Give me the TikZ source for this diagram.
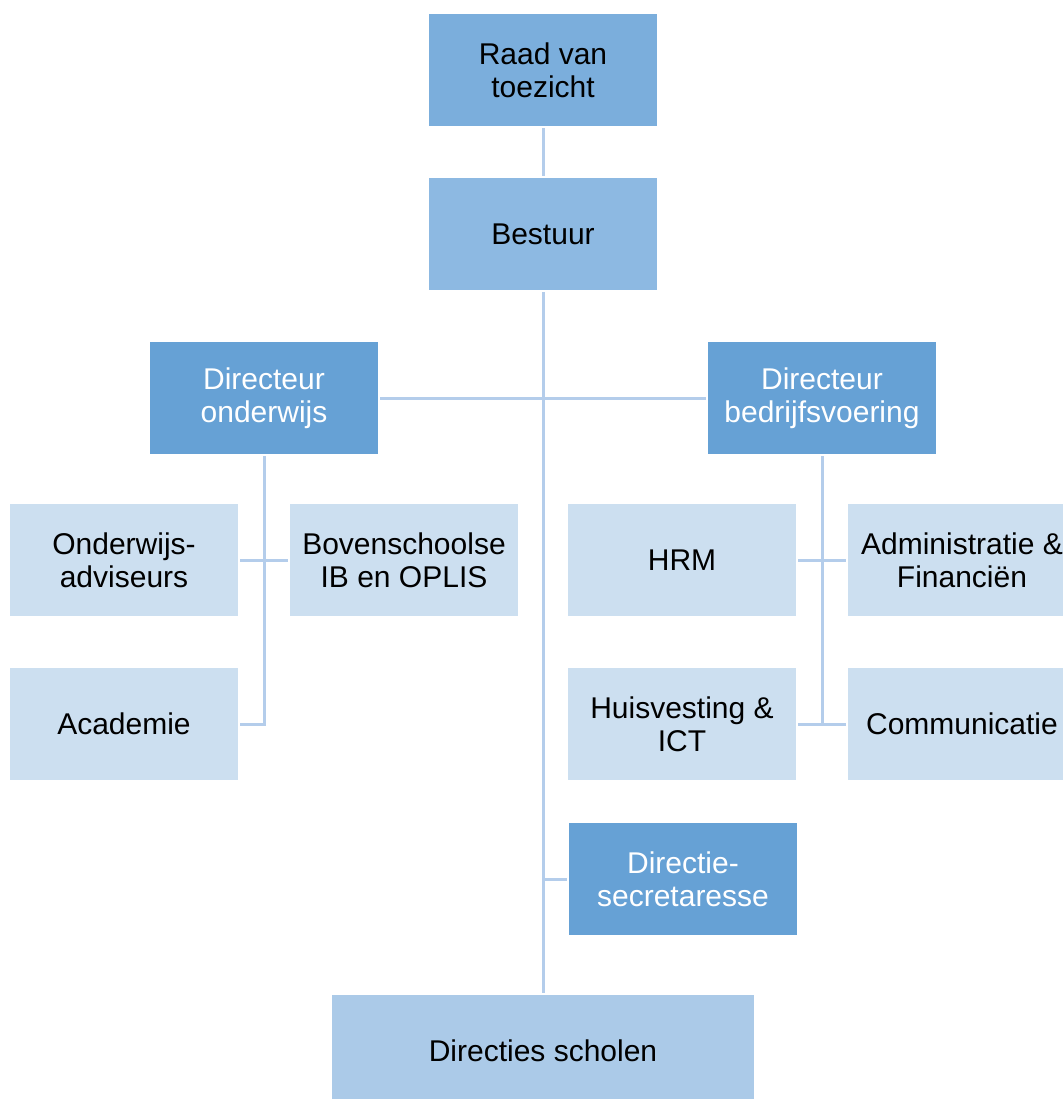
\documentclass[tikz,border=0pt]{standalone}
\usepackage{fontspec}
\setmainfont{Liberation Sans}
\usepackage{tikz}
\usetikzlibrary{positioning}
\definecolor{raadblue}  {RGB}{123,174,220}
\definecolor{bestblue}  {RGB}{141,185,226}
\definecolor{dirblue}   {RGB}{102,161,213}
\definecolor{unitblue}  {RGB}{204,223,240}
\definecolor{schoolblue}{RGB}{171,202,232}
\definecolor{lineblue}  {RGB}{180,205,235}

\tikzset{
  box/.style={minimum width=114pt, minimum height=56pt, inner sep=2pt,
    align=center, font=\fontsize{15}{16.5}\selectfont, text=black, outer sep=1.2pt},
  topbox/.style={box, fill=raadblue},
  bestbox/.style={box, fill=bestblue},
  dirbox/.style={box, fill=dirblue, text=white},
  unitbox/.style={box, fill=unitblue},
  schoolbox/.style={box, fill=schoolblue, minimum width=211pt},
  link/.style={draw=lineblue, line width=1.5pt}
}

\begin{document}
\begin{tikzpicture}[x=0.5pt,y=-0.5pt]
  \useasboundingbox (0,0) rectangle (1063,1099);
  \clip (0,0) rectangle (1063,1099);

  % top of the organisation
  \node[topbox]  (raad)    at (543,70)  {Raad van\\toezicht};
  \node[bestbox] (bestuur) at (543,234) {Bestuur};

  % directors
  \node[dirbox] (dironderwijs) at (264,398) {Directeur\\onderwijs};
  \node[dirbox] (dirbedrijf)   at (822,398) {Directeur\\bedrijfsvoering};

  % units onderwijs
  \node[unitbox] (onderwijsadv) at (124,560) {Onderwijs-\\adviseurs};
  \node[unitbox] (bovenschools) at (404,560) {Bovenschoolse\\IB en OPLIS};
  \node[unitbox] (academie)     at (124,724) {Academie};

  % units bedrijfsvoering
  \node[unitbox] (hrm)          at (682,560) {HRM};
  \node[unitbox] (admin)        at (962,560) {Administratie \&\\Financiën};
  \node[unitbox] (huisvesting)  at (682,724) {Huisvesting \&\\ICT};
  \node[unitbox] (communicatie) at (962,724) {Communicatie};

  \node[dirbox]    (secretaresse) at (683,879)  {Directie-\\secretaresse};
  \node[schoolbox] (scholen)      at (543,1051) {Directies scholen};

  % connectors
  \draw[link] (raad) -- (bestuur);
  \draw[link] (bestuur.south) -- (scholen.north);
  \draw[link] (dironderwijs) -- (dirbedrijf);
  \draw[link] (secretaresse.west) -- (secretaresse.west -| bestuur.south);

  \draw[link] (dironderwijs.south) |- (academie.east);
  \draw[link] (onderwijsadv) -- (bovenschools);

  \draw[link] (dirbedrijf.south) -- (dirbedrijf.south |- communicatie.west);
  \draw[link] (hrm) -- (admin);
  \draw[link] (huisvesting) -- (communicatie);
\end{tikzpicture}
\end{document}
